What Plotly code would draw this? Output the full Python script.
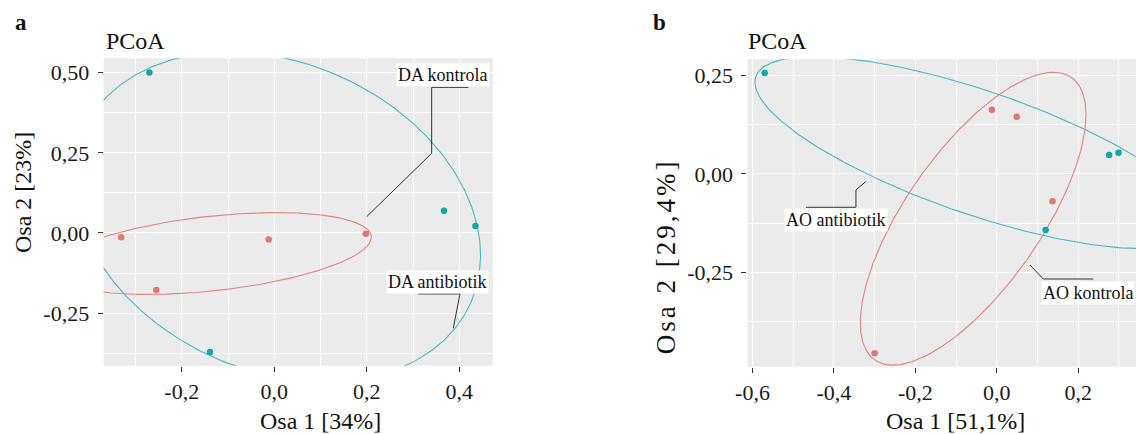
import numpy as np
import plotly.graph_objects as go

# ---------------- data ----------------
# Panel a (DA)
a_kontrola_x = [-0.331, -0.012, 0.198, -0.255]
a_kontrola_y = [-0.013, -0.020, -0.002, -0.178]
a_antibiotik_x = [-0.270, 0.367, 0.435, -0.139]
a_antibiotik_y = [0.500, 0.069, 0.022, -0.371]
# Panel b (AO)
b_kontrola_x = [-0.012, 0.049, 0.137, -0.300]
b_kontrola_y = [0.163, 0.145, -0.069, -0.455]
b_antibiotik_x = [-0.570, 0.276, 0.299, 0.120]
b_antibiotik_y = [0.256, 0.048, 0.054, -0.142]

# ellipses: centre and two conjugate semi-diameters
ell_a_kontrola = dict(cx=-0.135, cy=-0.064, ux=0.345, uy=0.051, vx=0.0, vy=0.117)
ell_a_antibiotik = dict(cx=0.006, cy=0.050, ux=0.440, uy=-0.120, vx=0.0, vy=0.500)
ell_b_kontrola = dict(cx=-0.058, cy=-0.1135, ux=0.197, uy=0.3715, vx=0.195, vy=0.0)
ell_b_antibiotik = dict(cx=-0.046, cy=0.054, ux=-0.548, uy=0.179, vx=0.0, vy=0.165)

# axis ticks
a_xticks = [-0.2, 0.0, 0.2, 0.4]
a_xticktext = ["-0,2", "0,0", "0,2", "0,4"]
a_xminor = [-0.3, -0.1, 0.1, 0.3]
a_yticks = [-0.25, 0.0, 0.25, 0.50]
a_yticktext = ["-0,25", "0,00", "0,25", "0,50"]
a_yminor = [-0.375, -0.125, 0.125, 0.375]
b_xticks = [-0.6, -0.4, -0.2, 0.0, 0.2]
b_xticktext = ["-0,6", "-0,4", "-0,2", "0,0", "0,2"]
b_xminor = [-0.5, -0.3, -0.1, 0.1, 0.3]
b_yticks = [-0.25, 0.0, 0.25]
b_yticktext = ["-0,25", "0,00", "0,25"]
b_yminor = [-0.375, -0.125, 0.125]

# group labels and their leader lines (data coordinates)
labels_a = [
    dict(text="DA kontrola", x=0.3654, y=0.4925,
         lx=[0.4195, 0.3403, 0.3403, 0.1998], ly=[0.454, 0.454, 0.2484, 0.0508]),
    dict(text="DA antibiotik", x=0.3535, y=-0.1543,
         lx=[0.3114, 0.4015, 0.387], ly=[-0.190, -0.190, -0.297]),
]
labels_b = [
    dict(text="AO antibiotik", x=-0.3956, y=-0.1175,
         lx=[-0.4688, -0.3459, -0.3459, -0.3221], ly=[-0.0845, -0.0845, -0.0406, -0.0195]),
    dict(text="AO kontrola", x=0.2229, y=-0.3028,
         lx=[0.2371, 0.1143, 0.0816], ly=[-0.2665, -0.2665, -0.231]),
]

# ---------------- style ----------------
W, H = 1136, 434
FONT = "Liberation Serif"
TEAL_PT, RED_PT = "#17A6A8", "#E0786F"
TEAL_LN, RED_LN = "#4CB8BC", "#E2847D"


def ellipse(p, n=400):
    t = np.linspace(0, 2 * np.pi, n)
    x = p["cx"] + p["ux"] * np.cos(t) + p["vx"] * np.sin(t)
    y = p["cy"] + p["uy"] * np.cos(t) + p["vy"] * np.sin(t)
    return x, y


fig = go.Figure()


def add_panel(xa, ya, kx, ky, ax, ay, ek, ea, labels):
    for p, col in ((ea, TEAL_LN), (ek, RED_LN)):
        ex, ey = ellipse(p)
        fig.add_trace(go.Scatter(x=ex, y=ey, mode="lines", xaxis=xa, yaxis=ya,
                                 line=dict(color=col, width=1.1), hoverinfo="skip"))
    fig.add_trace(go.Scatter(x=kx, y=ky, mode="markers", xaxis=xa, yaxis=ya,
                             marker=dict(color=RED_PT, size=6.5)))
    fig.add_trace(go.Scatter(x=ax, y=ay, mode="markers", xaxis=xa, yaxis=ya,
                             marker=dict(color=TEAL_PT, size=6.5)))
    for lab in labels:
        fig.add_trace(go.Scatter(x=lab["lx"], y=lab["ly"], mode="lines", xaxis=xa, yaxis=ya,
                                 line=dict(color="#333333", width=1), hoverinfo="skip"))
        fig.add_annotation(x=lab["x"], y=lab["y"], xref=xa, yref=ya, text=lab["text"],
                           showarrow=False, bgcolor="white", borderpad=1,
                           font=dict(family=FONT, size=18, color="#111111"))


add_panel("x", "y", a_kontrola_x, a_kontrola_y, a_antibiotik_x, a_antibiotik_y,
          ell_a_kontrola, ell_a_antibiotik, labels_a)
add_panel("x2", "y2", b_kontrola_x, b_kontrola_y, b_antibiotik_x, b_antibiotik_y,
          ell_b_kontrola, ell_b_antibiotik, labels_b)


def axis(dom, rng, tv, tt, minor, anchor, standoff):
    return dict(domain=dom, range=rng, anchor=anchor, tickmode="array", tickvals=tv,
                ticktext=tt, ticks="outside", ticklen=5, tickwidth=1, tickcolor="#333333",
                ticklabelstandoff=standoff, automargin=False,
                tickfont=dict(family=FONT, size=22, color="#1a1a1a"),
                showgrid=True, gridcolor="white", gridwidth=1.4, zeroline=False,
                showline=False, fixedrange=True,
                minor=dict(tickmode="array", tickvals=minor, showgrid=True,
                           gridcolor="white", gridwidth=0.8, ticks=""))


fig.update_layout(
    width=W, height=H, margin=dict(l=0, r=0, t=0, b=0, pad=0, autoexpand=False),
    paper_bgcolor="white", plot_bgcolor="#EBEBEB", showlegend=False,
    font=dict(family=FONT),
    xaxis=axis([103.6 / W, 492.9 / W], [-0.369, 0.4727], a_xticks, a_xticktext, a_xminor, "y", 1),
    yaxis=axis([1 - 365.7 / H, 1 - 58.3 / H], [-0.4137, 0.5446], a_yticks, a_yticktext, a_yminor, "x", 4),
    xaxis2=axis([747.4 / W, 1.0], [-0.6125, 0.342], b_xticks, b_xticktext, b_xminor, "y2", 1),
    yaxis2=axis([1 - 366.7 / H, 1 - 59.3 / H], [-0.489, 0.291], b_yticks, b_yticktext, b_yminor, "x2", 4),
)


def ptext(text, px, py, size, angle=0, bold=False, xanchor="center", spacing=None):
    if spacing is not None:
        text = '<span style="letter-spacing:%spx">%s</span>' % (spacing, text)
    fig.add_annotation(x=px / W, y=1 - py / H, xref="paper", yref="paper", text=text,
                       showarrow=False, textangle=angle, xanchor=xanchor, yanchor="middle",
                       font=dict(family=FONT, size=size, color="#111111",
                                 weight="bold" if bold else "normal"))


ptext("a", 21, 22, 23, bold=True)
ptext("b", 659, 22.5, 23, bold=True)
ptext("PCoA", 104, 40.5, 24, xanchor="left")
ptext("PCoA", 746, 41.5, 24, xanchor="left")
ptext("Osa 1 [34%]", 320.8, 421, 24)
ptext("Osa 1 [51,1%]", 955.8, 421, 24)
ptext("Osa 2 [23%]", 22.5, 192.5, 24, angle=-90)
ptext("Osa 2 [29,4%]", 665.5, 256.7, 27, angle=-90, spacing=3)

fig.write_html("out.html")
